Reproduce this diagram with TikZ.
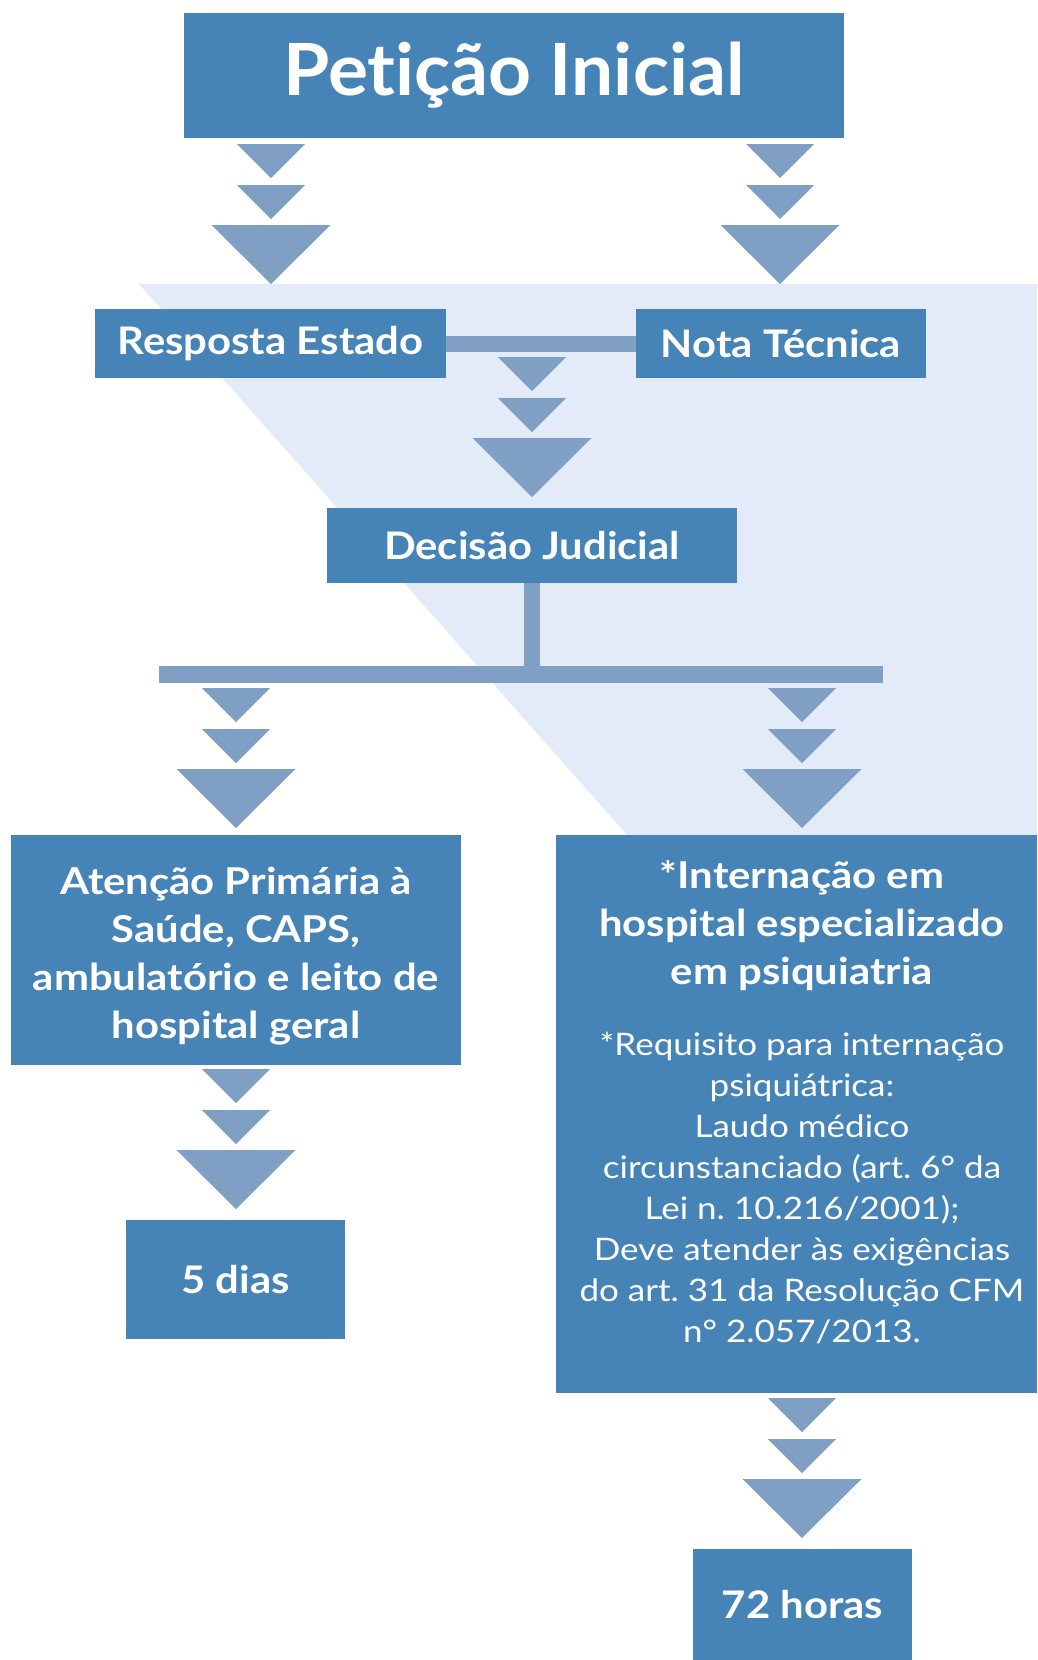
\documentclass[tikz,border=0pt]{standalone}
\usepackage{fontspec}
\setmainfont{Lato}[Ligatures=NoCommon]
\newfontfamily\petfont{Lato}[FakeStretch=1.04,Ligatures=NoCommon]
\newfontfamily\labfont{Lato}[FakeStretch=1.10,Ligatures=NoCommon]
\newfontfamily\bodyfont{Lato}[FakeStretch=1.13,Ligatures=NoCommon]
\definecolor{boxc}{HTML}{4684B8}
\definecolor{arrc}{HTML}{7F9FC4}
\definecolor{bgc}{HTML}{E4EBF8}
\frenchspacing
\begin{document}
\begin{tikzpicture}[x=1pt,y=-1pt,
  box/.style={fill=boxc,draw=none,inner sep=0pt,text=white,align=center},
  lab/.style={font=\labfont\bfseries\fontsize{38}{44}\selectfont},
  bar/.style={draw=arrc,line width=16pt},
  txt/.style={text=white,align=center,inner sep=0pt},
  tristack/.pic={
    \fill[arrc] (-34,0) -- (34,0) -- (0,34) -- cycle;
    \fill[arrc] (-34,41) -- (34,41) -- (0,75) -- cycle;
    \fill[arrc] (-59.5,81) -- (59.5,81) -- (0,140) -- cycle;
  }]
\useasboundingbox (0,0) rectangle (1037,1660);
\fill[bgc] (139,284) -- (1037,284) -- (1037,836) -- (628,836) -- cycle;
% boxes
\node[box,minimum width=660pt,minimum height=125pt,font=\petfont\bfseries\fontsize{72}{80}\selectfont] (pet) at (514,75.5) {Petição Inicial};
\node[box,lab,minimum width=351pt,minimum height=69pt] (resp) at (270.5,343.5) {Resposta Estado};
\node[box,lab,minimum width=290pt,minimum height=69pt] (nota) at (781,343.5) {Nota Técnica};
\node[box,lab,minimum width=410pt,minimum height=75pt] (dec) at (532,545.5) {Decisão Judicial};
\node[box,minimum width=450pt,minimum height=230pt] (left) at (236,950) {};
\node[box,minimum width=481pt,minimum height=558pt] (right) at (796.5,1114) {};
\node[box,lab,minimum width=219pt,minimum height=119pt] (dias) at (235.5,1279.5) {5 dias};
\node[box,lab,minimum width=219pt,minimum height=111pt] (horas) at (802.5,1604.5) {72 horas};
% texts
\node[txt,font=\bodyfont\bfseries\fontsize{37}{48}\selectfont] (ltext) at (236,956) {Atenção Primária à\\Saúde, CAPS,\\ambulatório e leito de\\hospital geral};
\node[txt,font=\bodyfont\bfseries\fontsize{37}{48}\selectfont] (rtitle) at (802,926) {*Internação em\\hospital especializado\\em psiquiatria};
\node[txt,font=\bodyfont\fontsize{31}{41}\selectfont] (rnote) at (802,1188) {*Requisito para internação\\psiquiátrica:\\Laudo médico\\circunstanciado (art. 6° da\\Lei n. 10.216/2001);\\Deve atender às exigências\\do art. 31 da Resolução CFM\\n° 2.057/2013.};
% connectors
\coordinate (hl) at (159,674.5);
\coordinate (hr) at (883,674.5);
\draw[bar] (resp.east) -- (nota.west);
\draw[bar] (dec.south) -- (dec.south |- hl);
\draw[bar,line width=17pt] (hl) -- (hr);
% arrow stacks
\pic at (271,144) {tristack};
\pic at (780,144) {tristack};
\pic at (532,357) {tristack};
\pic at (236,688) {tristack};
\pic at (802,688) {tristack};
\pic at (236,1069) {tristack};
\pic at (802,1398) {tristack};
\end{tikzpicture}
\end{document}
